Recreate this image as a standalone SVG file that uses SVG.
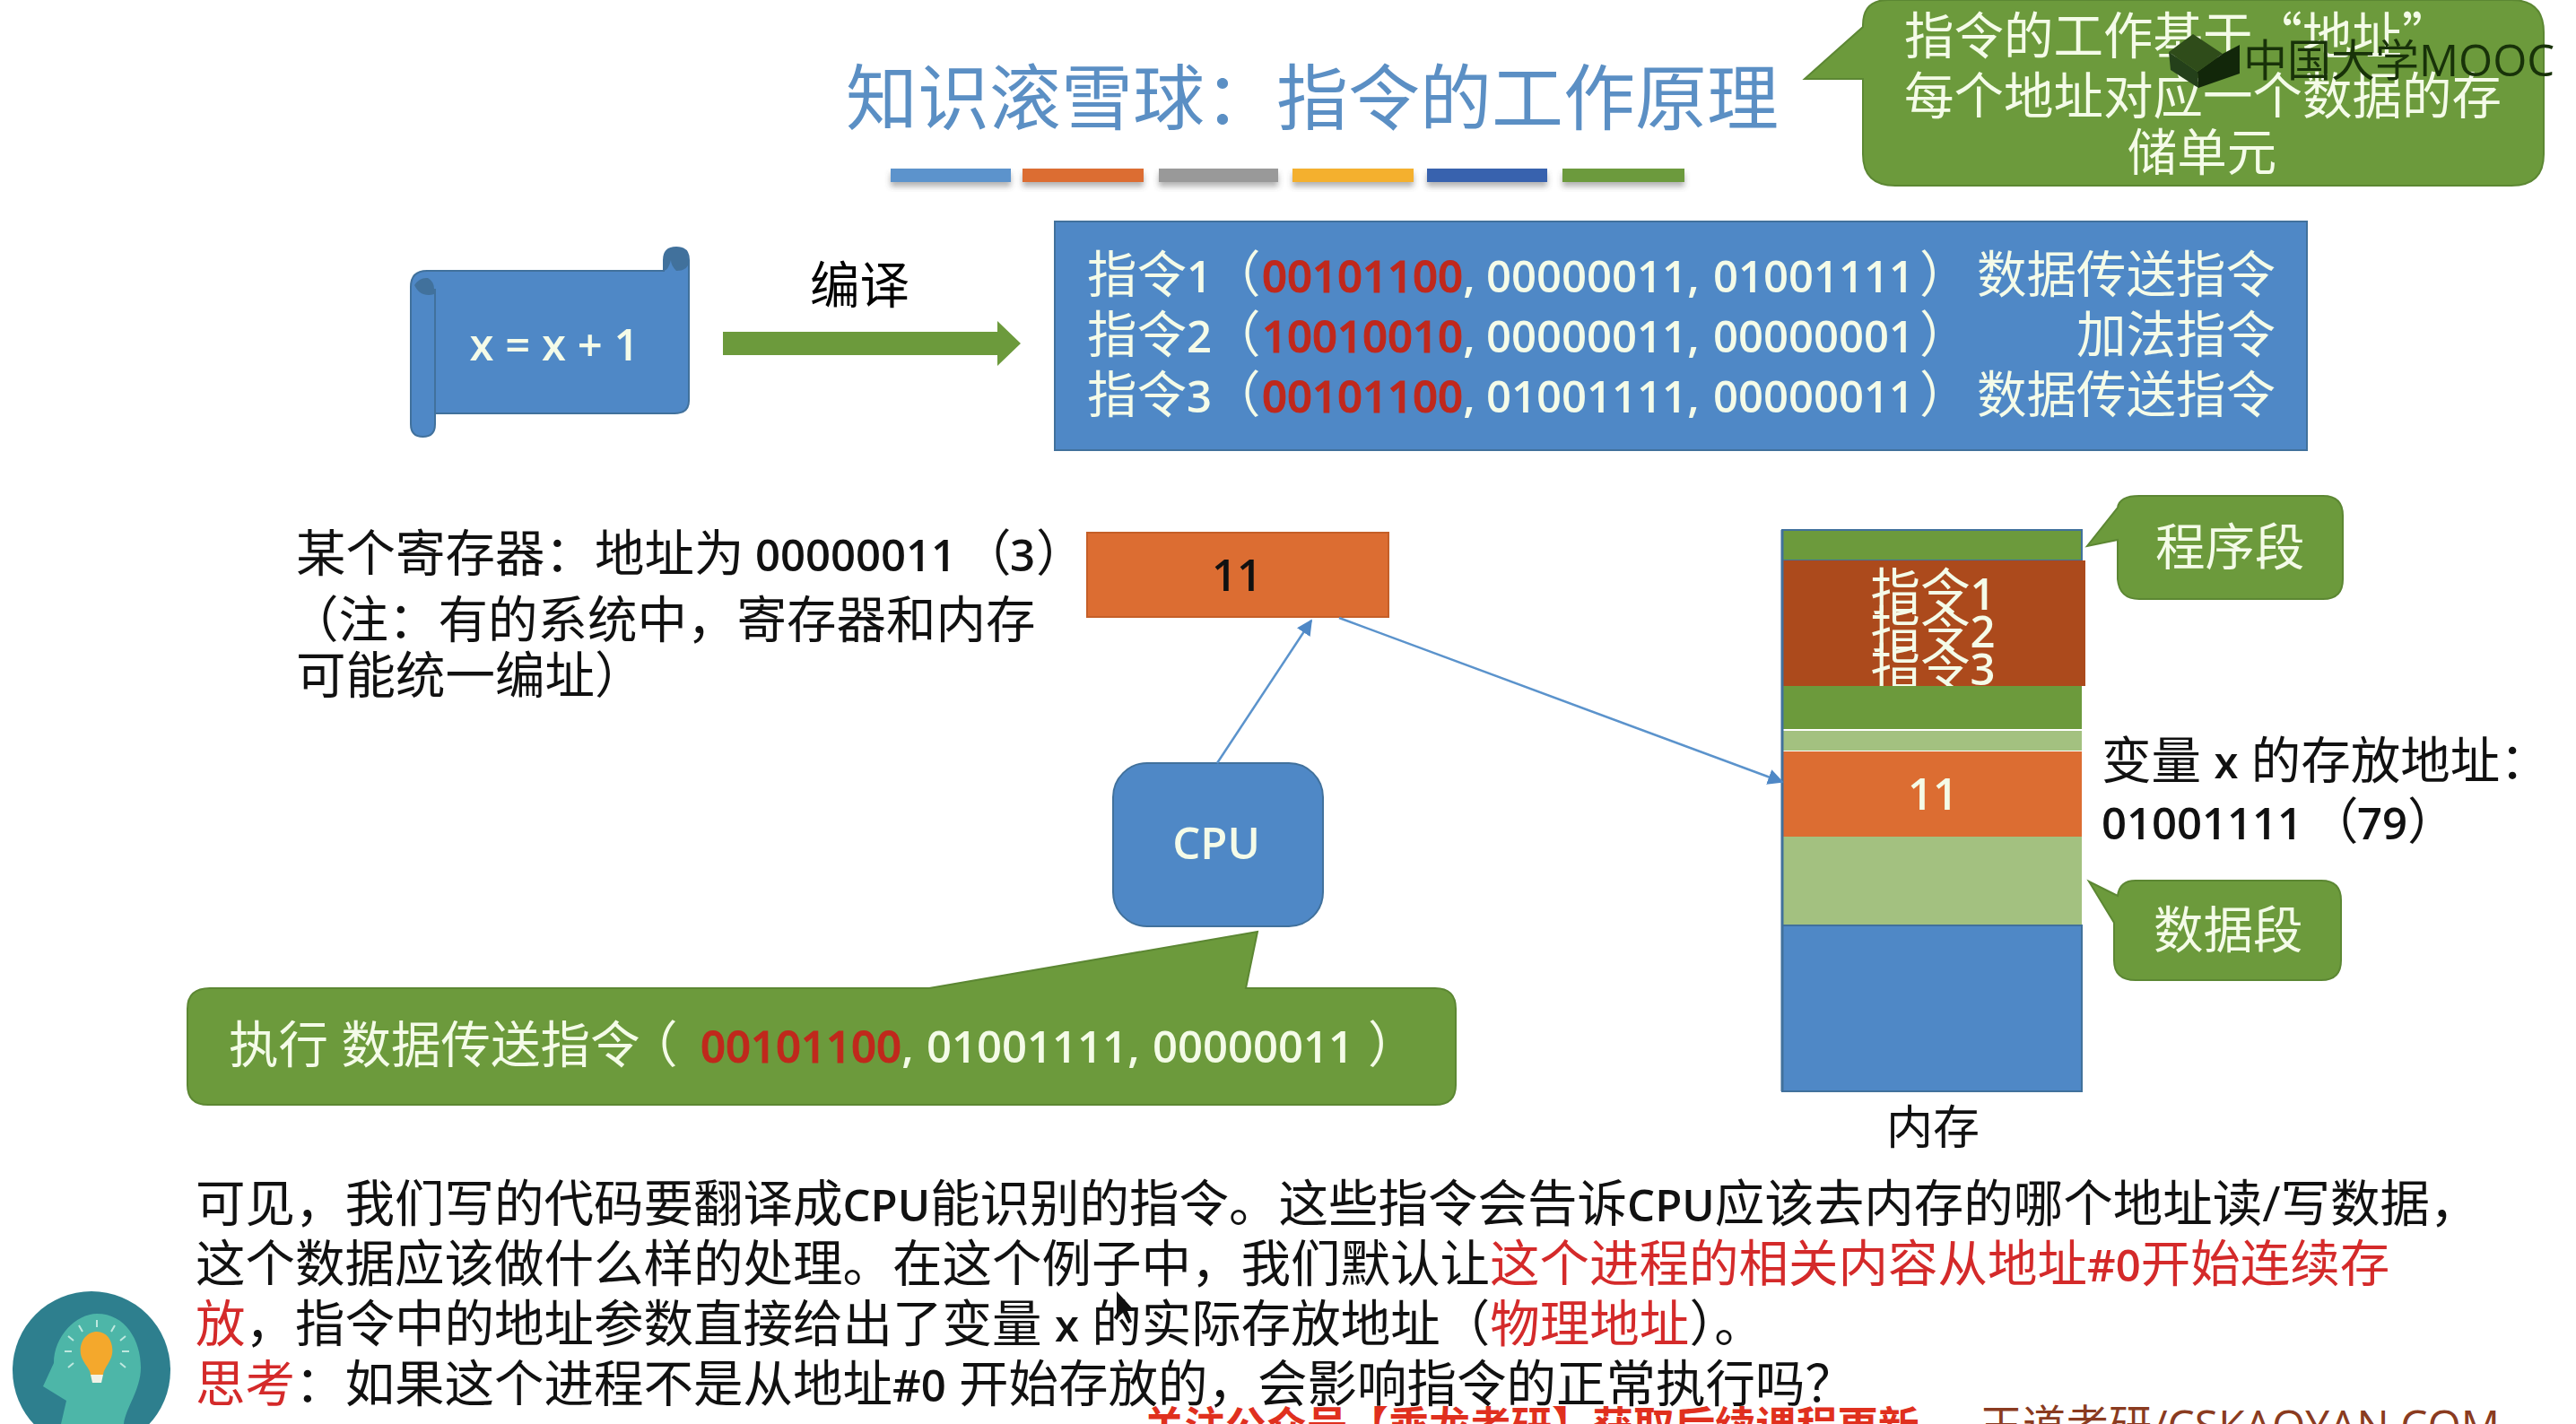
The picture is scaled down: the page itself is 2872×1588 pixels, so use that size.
<svg xmlns="http://www.w3.org/2000/svg" width="2872" height="1588" viewBox="0 0 2872 1588">
<style>
text{font-family:"Open Sans","Noto Sans CJK SC",sans-serif;font-size:55.5px}
.k{fill:#111}
.w{fill:#f4fbe8}
.c{text-anchor:middle}
.n{font-size:49px;font-weight:600}
.r{fill:#d42a2a}
.rb{fill:#c0281c;stroke:#c0281c;stroke-width:1px}
.q{font-family:"Noto Sans CJK SC",sans-serif}
.gs{fill:#6c9a3c;stroke:#5c8733;stroke-width:2}
.bl{fill:#4f88c6;stroke:#41719c;stroke-width:2}
.cn{fill:none;stroke:#5b93cc;stroke-width:2.5;marker-end:url(#ah)}
</style>
<defs>
<marker id="ah" viewBox="0 0 10 10" refX="9" refY="5" markerWidth="7" markerHeight="7" orient="auto" markerUnits="strokeWidth"><path d="M0 0L10 5L0 10Z" fill="#4f88c6"/></marker>
<filter id="sh" x="-10%" y="-50%" width="120%" height="220%"><feDropShadow dx="0" dy="5" stdDeviation="3" flood-color="#555" flood-opacity=".45"/></filter>
<clipPath id="instClip"><rect x="1990" y="625" width="335" height="140"/></clipPath>
<clipPath id="iconClip"><circle cx="102" cy="1528" r="88"/></clipPath>
</defs>
<rect width="2872" height="1588" fill="#fff"/>

<g id="title">
<text x="943" y="138" style="font-size:80px" fill="#5b8fc4">知识滚雪球：指令的工作原理</text>
<g filter="url(#sh)">
<rect x="993" y="188" width="134" height="15" fill="#5b93cc"/>
<rect x="1140" y="188" width="135" height="15" fill="#dc6d32"/>
<rect x="1292" y="188" width="133" height="15" fill="#999"/>
<rect x="1441" y="188" width="135" height="15" fill="#f4b02f"/>
<rect x="1591" y="188" width="134" height="15" fill="#3862ae"/>
<rect x="1742" y="188" width="136" height="15" fill="#6c9a3c"/>
</g>
</g>

<g id="note-top">
<path class="gs" d="M2105 0H2800Q2836 0 2836 36V172Q2836 207 2800 207H2113Q2077 207 2077 172V88H2012L2077 30V28Q2077 0 2105 0Z"/>
<text class="w q" x="2123" y="60">指令的工作基于“地址”</text>
<text class="w" x="2123" y="127">每个地址对应一个数据的存</text>
<text class="w c" x="2455" y="190">储单元</text>
</g>

<g id="watermark">
<polygon points="2418,58 2445,38 2478,60 2450,80" fill="#2f4c1a"/>
<polygon points="2450,80 2478,60 2497,50 2497,82 2451,98" fill="#12270a"/>
<polygon points="2418,58 2450,80 2451,98 2420,78" fill="#24401a"/>
<text x="2501" y="85" style="font-size:49px;font-weight:400" fill="#183209">中国大学MOOC</text>
</g>

<g id="source-scroll">
<path class="bl" d="M458 320Q458 302 476 302H740V290Q740 276 754 276Q768 276 768 290V447Q768 461 752 461H485V473Q485 487 471.5 487Q458 487 458 473Z"/>
<path d="M740 302V290Q740 276 754 276Q767 276 767 290V296Q764 302 754 302Q748 296 748 290Q745 302 740 302Z" fill="#41719c"/>
<path d="M462 318Q468 309 477 310Q484 314 484 322V328Q478 330 472 328Q466 326 462 318Z" fill="#41719c"/>
<path d="M485 461V322" fill="none" stroke="#41719c" stroke-width="2"/>
<text class="w c" x="618" y="402" style="font-size:49px;font-weight:600">x = x + 1</text>
</g>

<g id="compile-arrow">
<path d="M806 370H1112V358L1138 383L1112 408V396H806Z" fill="#6c9a3c"/>
<text x="903" y="338">编译</text>
</g>

<g id="instructions">
<rect class="bl" x="1176" y="247" width="1396" height="255"/>
<text class="w" x="1212" y="326">指令<tspan class="n">1</tspan><tspan x="1350">（</tspan><tspan class="n rb" x="1407">00101100</tspan><tspan class="n">,</tspan><tspan class="n" x="1657">00000011,</tspan><tspan class="n" x="1910">01001111</tspan><tspan x="2140">）</tspan></text>
<text class="w" x="2537" y="326" text-anchor="end">数据传送指令</text>
<text class="w" x="1212" y="393">指令<tspan class="n">2</tspan><tspan x="1350">（</tspan><tspan class="n rb" x="1407">10010010</tspan><tspan class="n">,</tspan><tspan class="n" x="1657">00000011,</tspan><tspan class="n" x="1910">00000001</tspan><tspan x="2140">）</tspan></text>
<text class="w" x="2537" y="393" text-anchor="end">加法指令</text>
<text class="w" x="1212" y="460">指令<tspan class="n">3</tspan><tspan x="1350">（</tspan><tspan class="n rb" x="1407">00101100</tspan><tspan class="n">,</tspan><tspan class="n" x="1657">01001111,</tspan><tspan class="n" x="1910">00000011</tspan><tspan x="2140">）</tspan></text>
<text class="w" x="2537" y="460" text-anchor="end">数据传送指令</text>
</g>

<g id="register-note">
<text class="k" x="330" y="637">某个寄存器：地址为 <tspan class="n" x="842">00000011</tspan><tspan x="1072">（</tspan><tspan class="n" x="1126">3</tspan><tspan x="1155">）</tspan></text>
<text class="k" x="322" y="711">（注：有的系统中，寄存器和内存</text>
<text class="k" x="330" y="773">可能统一编址）</text>
</g>

<g id="register">
<rect x="1212" y="594" width="336" height="94" fill="#dc6d32" stroke="#c55f28" stroke-width="2"/>
<text class="k c n" x="1379" y="659">11</text>
</g>

<g id="cpu">
<rect class="bl" x="1241" y="851" width="234" height="182" rx="38"/>
<text class="w c n" x="1356" y="958">CPU</text>
</g>

<g id="exec-callout">
<path class="gs" d="M234 1102H1036L1402 1039L1389 1102H1600Q1623 1102 1623 1125V1210Q1623 1232 1600 1232H232Q209 1232 209 1210V1125Q209 1102 234 1102Z"/>
<text class="w" x="255" y="1185">执行 数据传送指令<tspan x="700">（</tspan><tspan class="n rb" x="781">00101100</tspan><tspan class="n">,</tspan><tspan class="n" x="1033">01001111,</tspan><tspan class="n" x="1285">00000011</tspan><tspan x="1525">）</tspan></text>
</g>

<g id="memory">
<rect x="1987" y="591" width="334" height="34" fill="#6c9a3c" stroke="#41719c" stroke-width="2"/>
<rect x="1987" y="625" width="338" height="140" fill="#ac4a1c"/>
<rect x="1988" y="765" width="333" height="48" fill="#6c9a3c"/>
<rect x="1988" y="815" width="333" height="22" fill="#a3c180"/>
<rect x="1988" y="838" width="333" height="95" fill="#dc6d32"/>
<rect x="1988" y="933" width="333" height="99" fill="#a3c180"/>
<rect x="1987" y="1032" width="334" height="185" class="bl"/>
<path d="M1987 591V1217" stroke="#41719c" stroke-width="3" fill="none"/>
<g clip-path="url(#instClip)">
<text class="w c" x="2155" y="680">指令<tspan class="n">1</tspan></text>
<text class="w c" x="2155" y="722">指令<tspan class="n">2</tspan></text>
<text class="w c" x="2155" y="764">指令<tspan class="n">3</tspan></text>
</g>
<text class="w c n" x="2155" y="903">11</text>
<text class="k c" x="2155" y="1276" style="font-size:52px">内存</text>
</g>

<g id="program-segment">
<path class="gs" d="M2385 553H2590Q2612 553 2612 575V646Q2612 668 2590 668H2385Q2363 668 2361 646V602L2327 609L2361 566Q2363 553 2385 553Z"/>
<text class="w" x="2403" y="630">程序段</text>
</g>

<g id="data-segment">
<path class="gs" d="M2381 982H2588Q2610 982 2610 1004V1071Q2610 1093 2588 1093H2381Q2357 1093 2357 1071V1029L2329 983L2361 999Q2363 982 2381 982Z"/>
<text class="w" x="2401" y="1057">数据段</text>
</g>

<g id="variable-note">
<text class="k" x="2343" y="868">变量 <tspan class="n">x</tspan> 的存放地址：</text>
<text class="k" x="2343" y="936"><tspan class="n">01001111</tspan><tspan x="2574">（</tspan><tspan class="n" x="2628">79</tspan><tspan x="2684">）</tspan></text>
</g>

<g id="connectors">
<path class="cn" d="M1357 851L1462 692"/>
<path class="cn" d="M1493 689L1987 872"/>
</g>

<g id="explanation">
<text class="k" x="218" y="1362">可见，我们写的代码要翻译成<tspan class="n">CPU</tspan>能识别的指令。这些指令会告诉<tspan class="n">CPU</tspan>应该去内存的哪个地址读/写数据，</text>
<text class="k" x="218" y="1429">这个数据应该做什么样的处理。在这个例子中，我们默认让<tspan class="r">这个进程的相关内容从地址<tspan class="n">#0</tspan>开始连续存</tspan></text>
<text class="k" x="218" y="1496"><tspan class="r">放</tspan>，指令中的地址参数直接给出了变量 <tspan class="n">x</tspan> 的实际存放地址（<tspan class="r">物理地址</tspan>）。</text>
<text class="k" x="218" y="1563"><tspan class="r">思考</tspan>：如果这个进程不是从地址<tspan class="n">#0</tspan> 开始存放的，会影响指令的正常执行吗？</text>
</g>

<g id="footer">
<text x="1275" y="1607" style="font-size:45.5px;font-weight:700" fill="#e0301e">关注公众号【乘龙考研】获取后续课程更新</text>
<text x="2207" y="1607" style="font-size:48px" fill="#8a3b20">王道考研/CSKAOYAN.COM</text>
</g>

<g id="cursor"><path d="M1245 1440L1245 1470L1252 1464L1258 1476L1262 1474L1257 1462L1265 1462Z" fill="#111"/></g>

<g id="icon">
<circle cx="102" cy="1528" r="88" fill="#2e7f8e"/>
<g clip-path="url(#iconClip)">
<path d="M68 1588L74 1562L48 1546L60 1520C60 1490 85 1465 108 1465C140 1465 157 1495 157 1525C157 1550 140 1570 138 1588Z" fill="#4db6a8"/>
<path d="M108 1485C120 1485 127 1497 125 1510C123 1520 116 1525 115 1533H101C100 1525 92 1520 90 1510C88 1497 96 1485 108 1485Z" fill="#f4a82c"/>
<path d="M101 1533H115L113 1542H103Z" fill="#f2f2e6"/>
<g stroke="#bfe8df" stroke-width="2"><path d="M108 1472V1480M88 1478L92 1485M128 1478L124 1485M76 1490L82 1495M140 1490L134 1495M72 1507H80M136 1507H144M76 1525L82 1520M140 1525L134 1520"/></g>
</g>
</g>
</svg>
